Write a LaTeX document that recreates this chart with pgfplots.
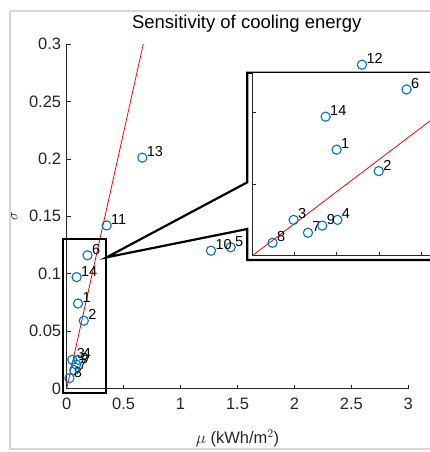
\documentclass[border=0pt]{standalone}
\usepackage{fontspec}
\setmainfont{Liberation Sans}
\usepackage{pgfplots}
\pgfplotsset{compat=1.18}
\usepackage{pgfplotstable}
\definecolor{mblue}{RGB}{0,114,189}
\definecolor{axgray}{RGB}{38,38,38}

\pgfplotstableread{
label x y
1 0.100 0.074
2 0.150 0.059
3 0.049 0.025
4 0.101 0.025
5 1.440 0.123
6 0.183 0.116
7 0.066 0.016
8 0.024 0.009
9 0.083 0.021
10 1.267 0.120
11 0.351 0.142
12 2.593 0.282
13 0.664 0.201
14 0.087 0.097
}\alldata

\pgfplotstableread{
label x y
1 0.100 0.074
2 0.150 0.059
3 0.049 0.025
4 0.101 0.025
6 0.183 0.116
7 0.066 0.016
8 0.024 0.009
9 0.083 0.021
14 0.087 0.097
}\zoomdata

\pgfplotsset{
  ptstyle/.style={only marks, mark=o, mark size=4.6pt, mblue,
    mark options={line width=1.1pt},
    nodes near coords, point meta=explicit symbolic,
    every node near coord/.append style={anchor=west, xshift=4pt, yshift=6pt,
      inner sep=0pt, text=black, font=\fontsize{14.5}{15}\selectfont}},
}

\begin{document}
\begin{tikzpicture}
\useasboundingbox (0pt,0pt) rectangle (429pt,-452pt);
\fill[white] (0pt,0pt) rectangle (429pt,-452pt);
% figure frame
\draw[black!16, line width=1.6pt] (10pt,-11pt) -- (440pt,-11pt);
\draw[black!16, line width=1.6pt] (10pt,-11pt) -- (10pt,-449pt) -- (440pt,-449pt);

\node[font=\fontsize{18.5}{20}\selectfont, text=black] at (246.7pt,-24pt) {Sensitivity of cooling energy};

% main axis
\begin{axis}[
  at={(66.7pt,-388.5pt)}, anchor=south west,
  scale only axis, width=341.6pt, height=344.5pt,
  xmin=0, xmax=3, ymin=0, ymax=0.3,
  axis x line=bottom, axis y line=left,
  axis line style={-, draw=axgray, line width=0.6pt},
  tick align=inside, major tick length=4pt,
  tick style={axgray, line width=0.6pt},
  scaled ticks=false,
  xtick={0,0.5,1,1.5,2,2.5,3},
  xticklabels={0,0.5,1,1.5,2,2.5,3},
  ytick={0,0.05,0.1,0.15,0.2,0.25,0.3},
  yticklabels={0,0.05,0.1,0.15,0.2,0.25,0.3},
  ticklabel style={font=\fontsize{16.5}{18}\selectfont, text=axgray},
  xticklabel style={yshift=-6pt},
  yticklabel style={xshift=-2pt},
  xlabel={$\mu$ (kWh/m$^2$)},
  xlabel style={font=\fontsize{16.5}{18}\selectfont, text=axgray, at={(0.5,0)}, anchor=center, yshift=-49.5pt},
  ylabel={$\sigma$},
  ylabel style={font=\fontsize{15}{16}\selectfont, text=axgray, at={(0,0.5)}, anchor=center, yshift=52.5pt},
  clip=false,
]
\addplot[red, line width=0.8pt] coordinates {(0,0) (0.6725,0.3)};
\addplot[ptstyle] table[x=x, y=y, meta=label] {\alldata};
\end{axis}

% zoom box in main axis and callout
\draw[black, line width=2.2pt] (63.3pt,-239pt) rectangle (106pt,-392.7pt);
\draw[black, line width=2.2pt, line join=miter]
  (440pt,-72.7pt) -- (247.3pt,-72.7pt) -- (247.3pt,-182.3pt) -- (106.7pt,-257.3pt)
  -- (247.3pt,-229pt) -- (247.3pt,-260pt) -- (440pt,-260pt);

% inset axis
\begin{axis}[
  at={(252.3pt,-255.7pt)}, anchor=south west,
  scale only axis, width=210.75pt, height=182.6pt,
  xmin=0, xmax=0.25, ymin=0, ymax=0.1274,
  axis background/.style={fill=white},
  axis x line=bottom, axis y line=left,
  axis line style={-, draw=axgray, line width=0.5pt},
  tick align=inside, major tick length=3.5pt,
  tick style={axgray, line width=0.5pt},
  xtick={0.05,0.1,0.15,0.2,0.25}, ytick={0.05,0.1},
  xticklabels={}, yticklabels={},
]
\addplot[red, line width=0.8pt] coordinates {(0,0) (0.6725,0.3)};
\addplot[ptstyle] table[x=x, y=y, meta=label] {\zoomdata};
\end{axis}
\end{tikzpicture}
\end{document}
